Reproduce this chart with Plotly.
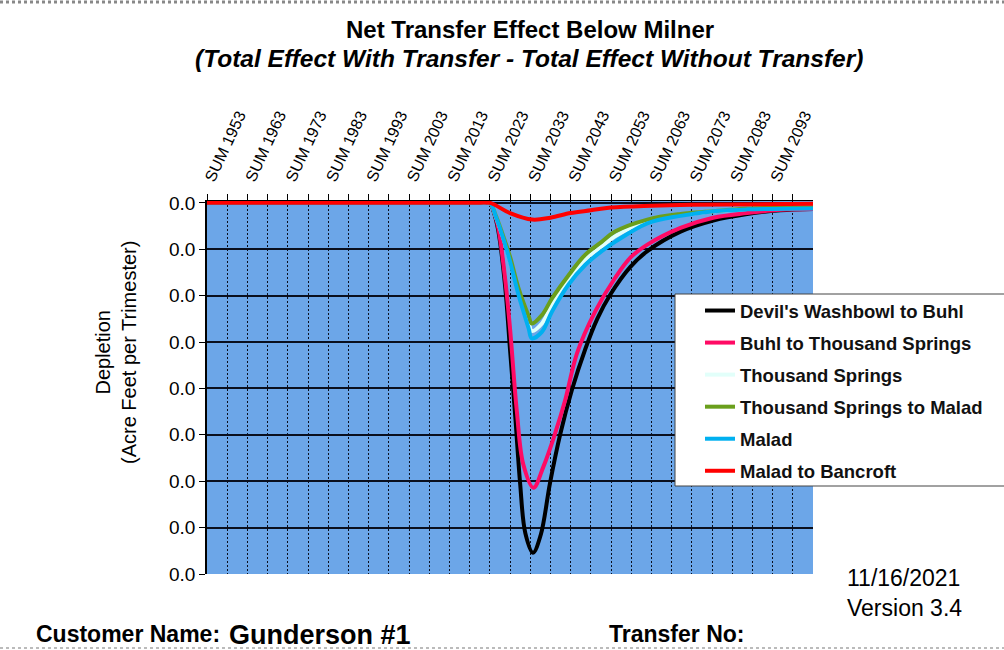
import plotly.graph_objects as go

# ---------------- data ----------------
tick_years = [1953, 1963, 1973, 1983, 1993, 2003, 2013, 2023, 2033, 2043, 2053, 2063, 2073, 2083, 2093]
tick_labels = ["SUM 1953", "SUM 1963", "SUM 1973", "SUM 1983", "SUM 1993", "SUM 2003", "SUM 2013",
               "SUM 2023", "SUM 2033", "SUM 2043", "SUM 2053", "SUM 2063", "SUM 2073", "SUM 2083", "SUM 2093"]
y_tick_values = [0, 0.005, 0.010, 0.015, 0.020, 0.025, 0.030, 0.035, 0.040]
y_tick_labels = ["0.0", "0.0", "0.0", "0.0", "0.0", "0.0", "0.0", "0.0", "0.0"]

dwb_x = [1953, 2020, 2023, 2024.0, 2025.1, 2026.8, 2028.0, 2029.3, 2030.5, 2031.8, 2033.7, 2035.6, 2037.9,
         2040.4, 2043.3, 2046.6, 2049.6, 2052.8, 2057.8, 2062.0, 2070.2, 2078.3, 2086.7, 2094.9, 2103]
dwb_y = [0, 0, 0, 0.0010, 0.0030, 0.0090, 0.0158, 0.0230, 0.0302, 0.0356, 0.0377, 0.0358, 0.0302,
         0.0250, 0.0202, 0.0158, 0.0125, 0.0099, 0.0069, 0.0052, 0.0031, 0.0019, 0.0012, 0.0008, 0.00065]

buhl_x = [1953, 2020, 2023, 2024.0, 2025.1, 2026.8, 2028.0, 2029.7, 2031.3, 2033.8, 2036.3, 2039.2, 2041.7,
          2044.6, 2049.1, 2054.0, 2057.8, 2062.0, 2070.2, 2078.3, 2086.7, 2094.9, 2103]
buhl_y = [0, 0, 0, 0.0009, 0.0027, 0.0082, 0.0135, 0.0225, 0.0282, 0.0307, 0.0284, 0.0248, 0.0212,
          0.0162, 0.0117, 0.0081, 0.0059, 0.0045, 0.0027, 0.0016, 0.0011, 0.00075, 0.00065]

ts_x = [1953, 2020, 2023, 2024.5, 2026.8, 2028.0, 2030.1, 2032.6, 2033.4, 2035.9, 2038.4, 2042.5,
        2046.6, 2050.7, 2054.0, 2062.0, 2070.2, 2078.3, 2086.7, 2103]
ts_y = [0, 0, 0, 0.0015, 0.0044, 0.0061, 0.0096, 0.0128, 0.0138, 0.0130, 0.0110, 0.0083,
        0.0061, 0.0047, 0.0036, 0.0020, 0.0013, 0.0009, 0.00065, 0.00055]

tsm_x = [1953, 2020, 2023, 2024.5, 2026.8, 2028.0, 2030.1, 2032.6, 2033.4, 2035.9, 2038.4, 2042.5,
         2046.6, 2050.7, 2054.0, 2062.0, 2070.2, 2078.3, 2086.7, 2103]
tsm_y = [0, 0, 0, 0.0014, 0.0042, 0.0058, 0.0092, 0.0122, 0.0130, 0.0121, 0.0103, 0.0078,
         0.0056, 0.0042, 0.0031, 0.0018, 0.0012, 0.0009, 0.0006, 0.0005]

malad_x = [1953, 2020, 2023, 2024.5, 2026.8, 2028.0, 2030.1, 2032.6, 2033.4, 2035.9, 2038.4, 2042.5,
           2046.6, 2050.7, 2054.0, 2062.0, 2070.2, 2078.3, 2086.7, 2103]
malad_y = [0, 0, 0, 0.0015, 0.0045, 0.0063, 0.0099, 0.0135, 0.0146, 0.0139, 0.0117, 0.0088,
           0.0067, 0.0052, 0.0042, 0.0022, 0.0014, 0.0009, 0.0007, 0.0006]

mb_x = [1953, 2020, 2023, 2028.0, 2033.5, 2038.0, 2043.0, 2048.0, 2053.0, 2063.0, 2073.0, 2103]
mb_y = [0, 0, 0, 0.0011, 0.0018, 0.0016, 0.0011, 0.0008, 0.0005, 0.0003, 0.0002, 0.0001]

series = [
    ("Devil's Washbowl to Buhl", dwb_x, dwb_y, "#000000"),
    ("Buhl to Thousand Springs", buhl_x, buhl_y, "#ff0a64"),
    ("Thousand Springs", ts_x, ts_y, "#e2fffa"),
    ("Thousand Springs to Malad", tsm_x, tsm_y, "#6a9f1c"),
    ("Malad", malad_x, malad_y, "#00b0f0"),
    ("Malad to Bancroft", mb_x, mb_y, "#ff0000"),
]

FONT = "Liberation Sans, Arial, sans-serif"

fig = go.Figure()
for i, (name, xs, ys, col) in enumerate(series):
    fig.add_trace(go.Scatter(
        x=xs, y=ys, name=name, mode="lines",
        line=dict(color=col, width=4, shape="spline", smoothing=1.0),
        legendgroup="g%d" % i,
    ))

# tick positions every 5 years, labels every 10
tv, tt = [], []
for yr, lab in zip(tick_years, tick_labels):
    tv += [yr, yr + 5]
    tt += [lab, ""]

# plot-area geometry (px)
L, R, T, B = 207, 1004 - 813, 201, 650 - 574
PW, PH = 1004 - L - R, 650 - T - B

def px_x(p):
    return (p - L) / PW

def px_y(p):
    return (650 - B - p) / PH

fig.update_layout(
    width=1004, height=650,
    margin=dict(l=L, r=R, t=T, b=B),
    paper_bgcolor="white",
    plot_bgcolor="#6ca6e8",
    font=dict(family=FONT, color="black"),
    showlegend=True,
    legend=dict(
        x=px_x(700), y=px_y(292), xanchor="left", yanchor="top",
        bgcolor="rgba(0,0,0,0)", borderwidth=0,
        font=dict(family=FONT, size=18.5, color="#111", weight="bold"),
        traceorder="grouped", tracegroupgap=5,
    ),
    xaxis=dict(
        side="top", range=[1953, 2103],
        tickmode="array", tickvals=tv, ticktext=tt, tickangle=-65,
        tickfont=dict(family=FONT, size=16, color="black"),
        ticks="outside", ticklen=6, tickcolor="black", tickwidth=1,
        showgrid=True, gridcolor="#0a0f1e", gridwidth=1, griddash="2px,2px",
        showline=True, linecolor="black", linewidth=1,
        zeroline=False,
    ),
    yaxis=dict(
        range=[0.040, -0.0002],
        tickmode="array", tickvals=y_tick_values, ticktext=y_tick_labels,
        tickfont=dict(family=FONT, size=19, color="black"),
        ticks="outside", ticklen=6, tickcolor="black", tickwidth=1,
        showgrid=True, gridcolor="#0a0f1e", gridwidth=1.5,
        showline=True, linecolor="black", linewidth=1.5,
        zeroline=False,
    ),
    shapes=[
        dict(type="rect", xref="paper", yref="paper",
             x0=px_x(675), x1=px_x(1012), y0=px_y(486), y1=px_y(294),
             fillcolor="white", line=dict(color="#444", width=1), layer="above"),
        dict(type="line", xref="paper", yref="paper",
             x0=px_x(0), x1=px_x(1004), y0=px_y(2), y1=px_y(2),
             line=dict(color="#888", width=3, dash="dot")),
        dict(type="line", xref="paper", yref="paper",
             x0=px_x(0), x1=px_x(1004), y0=px_y(648), y1=px_y(648),
             line=dict(color="#bbb", width=2, dash="dot")),
    ],
    annotations=[
        dict(text="<b>Net Transfer Effect Below Milner</b>", xref="paper", yref="paper",
             x=px_x(530), y=px_y(30), xanchor="center", yanchor="middle", showarrow=False,
             font=dict(family=FONT, size=24, color="black")),
        dict(text="<b><i>(Total Effect With Transfer - Total Effect Without Transfer)</i></b>",
             xref="paper", yref="paper",
             x=px_x(529), y=px_y(58), xanchor="center", yanchor="middle", showarrow=False,
             font=dict(family=FONT, size=24.5, color="black")),
        dict(text="Depletion<br>(Acre Feet per Trimester)", xref="paper", yref="paper",
             x=px_x(116), y=px_y(352), xanchor="center", yanchor="middle", showarrow=False,
             textangle=-90, font=dict(family=FONT, size=20, color="black")),
        dict(text="11/16/2021", xref="paper", yref="paper",
             x=px_x(845), y=px_y(578), xanchor="left", yanchor="middle", showarrow=False,
             font=dict(family=FONT, size=23, color="black")),
        dict(text="Version 3.4", xref="paper", yref="paper",
             x=px_x(845), y=px_y(608), xanchor="left", yanchor="middle", showarrow=False,
             font=dict(family=FONT, size=23, color="black")),
        dict(text="<b>Customer Name:</b>", xref="paper", yref="paper",
             x=px_x(34), y=px_y(634), xanchor="left", yanchor="middle", showarrow=False,
             font=dict(family=FONT, size=23, color="black")),
        dict(text="<b>Gunderson #1</b>", xref="paper", yref="paper",
             x=px_x(227), y=px_y(635), xanchor="left", yanchor="middle", showarrow=False,
             font=dict(family=FONT, size=27, color="black")),
        dict(text="<b>Transfer No:</b>", xref="paper", yref="paper",
             x=px_x(607), y=px_y(634), xanchor="left", yanchor="middle", showarrow=False,
             font=dict(family=FONT, size=23, color="black")),
    ],
)

fig.write_html("out.html", config={"displayModeBar": False},
               post_script="document.body.style.margin='0px';")
